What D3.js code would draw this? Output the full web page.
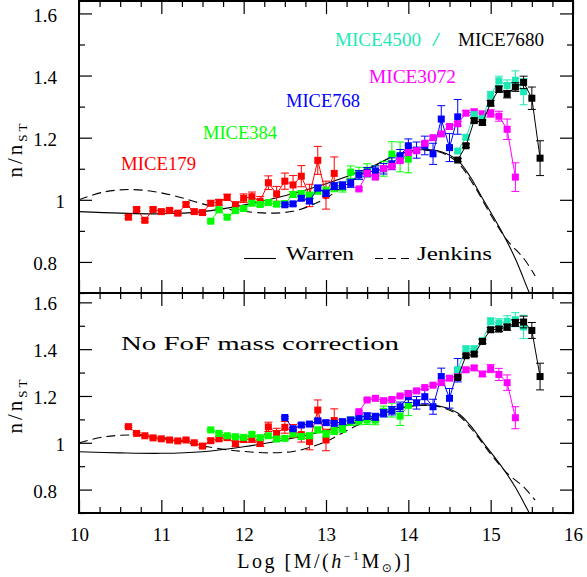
<!DOCTYPE html>
<html>
<head>
<meta charset="utf-8">
<script src="https://cdn.jsdelivr.net/npm/d3@7"></script>
<style>
    body { margin: 0; background: #fff; }
    text { font-family: "Liberation Serif", serif; }
</style>
</head>
<body>
<div id="chart"></div>
<script>
// axis ticks
const massTicks = [10, 11, 12, 13, 14, 15, 16];
const massMinor = [10.25, 10.5, 10.75, 11.25, 11.5, 11.75, 12.25, 12.5, 12.75, 13.25, 13.5, 13.75, 14.25, 14.5, 14.75, 15.25, 15.5, 15.75];
const ratioTicks = [0.8, 1, 1.2, 1.4, 1.6];
const ratioMinor = [0.7, 0.9, 1.1, 1.3, 1.5];

// log mass bins of each run
const massMICE179 = [10.6, 10.7, 10.8, 10.9, 11.0, 11.1, 11.2, 11.3, 11.4, 11.5, 11.6, 11.7, 11.8, 11.9, 12.0, 12.1, 12.2, 12.3, 12.4, 12.5, 12.6, 12.7, 12.8, 12.9, 13.0, 13.1];
const massMICE384 = [11.6, 11.7, 11.8, 11.9, 12.0, 12.1, 12.2, 12.3, 12.4, 12.5, 12.6, 12.7, 12.8, 12.9, 13.0, 13.1, 13.2, 13.3, 13.4, 13.5, 13.6, 13.7, 13.8, 13.9, 14.0];
const massMICE768 = [12.5, 12.6, 12.7, 12.8, 12.9, 13.0, 13.1, 13.2, 13.3, 13.4, 13.5, 13.6, 13.7, 13.8, 13.9, 14.0, 14.1, 14.2, 14.3, 14.4, 14.5, 14.6];
const massMICE3072 = [13.4, 13.5, 13.6, 13.7, 13.8, 13.9, 14.0, 14.1, 14.2, 14.3, 14.4, 14.5, 14.6, 14.7, 14.8, 14.9, 15.0, 15.1, 15.2, 15.3];
const massMICE4500 = [14.6, 14.7, 14.8, 14.9, 15.0, 15.1, 15.2, 15.3, 15.4];
const massMICE7680 = [14.6, 14.7, 14.8, 14.9, 15.0, 15.1, 15.2, 15.3, 15.4, 15.5, 15.6];

// top panel: n/n_ST with FoF mass correction
const topMICE179 = [0.944, 0.969, 0.934, 0.969, 0.962, 0.966, 0.957, 0.985, 0.962, 0.959, 0.989, 0.992, 1.008, 0.982, 1.005, 1.010, 0.995, 1.055, 1.019, 1.060, 1.048, 1.076, 1.014, 1.127, 1.015, 1.085];
const topErrMICE179 = [0.005, 0.005, 0.005, 0.005, 0.005, 0.005, 0.006, 0.006, 0.006, 0.007, 0.008, 0.009, 0.010, 0.012, 0.014, 0.015, 0.016, 0.022, 0.024, 0.026, 0.030, 0.034, 0.036, 0.045, 0.045, 0.053];
const topMICE384 = [0.931, 0.968, 0.944, 0.965, 0.972, 0.989, 0.985, 0.991, 0.986, 0.988, 1.017, 1.019, 1.014, 1.030, 1.028, 1.040, 1.040, 1.089, 1.085, 1.095, 1.088, 1.100, 1.147, 1.138, 1.131];
const topErrMICE384 = [0.004, 0.004, 0.005, 0.005, 0.005, 0.006, 0.006, 0.007, 0.007, 0.008, 0.009, 0.010, 0.011, 0.012, 0.013, 0.014, 0.015, 0.020, 0.020, 0.021, 0.022, 0.024, 0.040, 0.048, 0.044];
const topMICE768 = [0.984, 0.987, 1.005, 0.996, 1.038, 1.021, 1.044, 1.046, 1.053, 1.080, 1.089, 1.093, 1.100, 1.116, 1.142, 1.174, 1.160, 1.175, 1.148, 1.260, 1.168, 1.267];
const topErrMICE768 = [0.006, 0.006, 0.007, 0.008, 0.009, 0.010, 0.011, 0.012, 0.013, 0.014, 0.015, 0.016, 0.017, 0.019, 0.020, 0.022, 0.026, 0.030, 0.034, 0.043, 0.045, 0.056];
const topMICE3072 = [1.035, 1.085, 1.073, 1.101, 1.108, 1.126, 1.152, 1.158, 1.182, 1.200, 1.212, 1.236, 1.245, 1.279, 1.283, 1.276, 1.278, 1.269, 1.227, 1.073];
const topErrMICE3072 = [0.004, 0.004, 0.004, 0.004, 0.004, 0.004, 0.004, 0.005, 0.005, 0.005, 0.006, 0.006, 0.007, 0.008, 0.009, 0.010, 0.012, 0.016, 0.033, 0.046];
const topMICE4500 = [1.157, 1.201, 1.274, 1.260, 1.337, 1.383, 1.368, 1.385, 1.348];
const topErrMICE4500 = [0.006, 0.007, 0.008, 0.010, 0.012, 0.015, 0.018, 0.030, 0.042];
const topMICE7680 = [1.128, 1.174, 1.255, 1.249, 1.311, 1.356, 1.340, 1.363, 1.378, 1.327, 1.134];
const topErrMICE7680 = [0.005, 0.006, 0.007, 0.008, 0.009, 0.010, 0.012, 0.014, 0.020, 0.036, 0.056];

// bottom panel: no FoF mass correction
const botMICE179 = [1.069, 1.040, 1.030, 1.021, 1.017, 1.012, 1.008, 1.012, 1.000, 0.986, 1.009, 1.017, 1.022, 0.996, 1.014, 1.016, 0.999, 1.068, 1.040, 1.066, 1.050, 1.035, 1.005, 1.140, 1.012, 1.095];
const botErrMICE179 = [0.004, 0.004, 0.004, 0.004, 0.004, 0.004, 0.005, 0.005, 0.005, 0.006, 0.007, 0.008, 0.009, 0.011, 0.012, 0.014, 0.015, 0.020, 0.022, 0.025, 0.028, 0.032, 0.035, 0.043, 0.046, 0.050];
const botMICE384 = [1.055, 1.040, 1.030, 1.026, 1.023, 1.036, 1.022, 1.030, 1.016, 1.019, 1.037, 1.027, 1.030, 1.055, 1.038, 1.050, 1.060, 1.092, 1.095, 1.097, 1.097, 1.135, 1.140, 1.114, 1.160];
const botErrMICE384 = [0.004, 0.004, 0.005, 0.005, 0.005, 0.006, 0.006, 0.007, 0.007, 0.008, 0.009, 0.010, 0.011, 0.012, 0.013, 0.014, 0.015, 0.018, 0.018, 0.019, 0.020, 0.022, 0.030, 0.040, 0.044];
const botMICE768 = [1.108, 1.060, 1.076, 1.080, 1.094, 1.086, 1.083, 1.090, 1.097, 1.109, 1.114, 1.111, 1.126, 1.137, 1.154, 1.197, 1.171, 1.197, 1.154, 1.283, 1.190, 1.310];
const botErrMICE768 = [0.005, 0.005, 0.006, 0.007, 0.008, 0.009, 0.010, 0.011, 0.012, 0.013, 0.014, 0.015, 0.016, 0.018, 0.020, 0.025, 0.027, 0.030, 0.032, 0.036, 0.042, 0.050];
const botMICE3072 = [1.133, 1.183, 1.190, 1.180, 1.185, 1.200, 1.210, 1.222, 1.236, 1.246, 1.257, 1.276, 1.286, 1.312, 1.320, 1.294, 1.317, 1.292, 1.257, 1.107];
const botErrMICE3072 = [0.004, 0.004, 0.004, 0.004, 0.004, 0.004, 0.004, 0.005, 0.005, 0.005, 0.006, 0.006, 0.007, 0.008, 0.009, 0.010, 0.017, 0.026, 0.033, 0.047];
const botMICE4500 = [1.312, 1.402, 1.402, 1.436, 1.519, 1.512, 1.519, 1.526, 1.495];
const botErrMICE4500 = [0.008, 0.010, 0.010, 0.011, 0.015, 0.018, 0.024, 0.030, 0.050];
const botMICE7680 = [1.279, 1.372, 1.379, 1.433, 1.483, 1.486, 1.494, 1.512, 1.516, 1.480, 1.283];
const botErrMICE7680 = [0.006, 0.007, 0.008, 0.009, 0.010, 0.011, 0.013, 0.015, 0.025, 0.034, 0.057];

// fitting functions relative to Sheth-Tormen
const warrenMass = [10.0, 10.5, 11.0, 11.5, 12.0, 12.5, 13.0, 13.5, 13.8, 14.0, 14.2, 14.4, 14.6, 14.75, 14.9, 15.0, 15.15, 15.3, 15.47, 15.6];
const warrenRatio = [0.962, 0.957, 0.955, 0.962, 0.983, 1.013, 1.052, 1.100, 1.138, 1.155, 1.162, 1.155, 1.127, 1.075, 1.005, 0.960, 0.890, 0.810, 0.700, 0.620];
const jenkinsMass = [10.0, 10.3, 10.6, 10.9, 11.2, 11.5, 11.8, 12.0, 12.3, 12.6, 12.8, 13.0, 13.2, 13.4, 13.6, 13.8, 14.0, 14.2, 14.4, 14.6, 14.8, 15.0, 15.2, 15.4, 15.54];
const jenkinsRatio = [1.000, 1.025, 1.033, 1.027, 1.010, 0.987, 0.970, 0.963, 0.957, 0.963, 0.980, 1.005, 1.042, 1.078, 1.110, 1.138, 1.155, 1.160, 1.152, 1.120, 1.045, 0.952, 0.870, 0.812, 0.755];

const sims = [
    { name: 'MICE179', color: '#ff0000', mass: massMICE179, top: topMICE179, topErr: topErrMICE179, bot: botMICE179, botErr: botErrMICE179 },
    { name: 'MICE384', color: '#00ff00', mass: massMICE384, top: topMICE384, topErr: topErrMICE384, bot: botMICE384, botErr: botErrMICE384 },
    { name: 'MICE768', color: '#0000ff', mass: massMICE768, top: topMICE768, topErr: topErrMICE768, bot: botMICE768, botErr: botErrMICE768 },
    { name: 'MICE3072', color: '#ff00ff', mass: massMICE3072, top: topMICE3072, topErr: topErrMICE3072, bot: botMICE3072, botErr: botErrMICE3072 },
    { name: 'MICE4500', color: '#1de9b6', mass: massMICE4500, top: topMICE4500, topErr: topErrMICE4500, bot: botMICE4500, botErr: botErrMICE4500 },
    { name: 'MICE7680', color: '#000000', mass: massMICE7680, top: topMICE7680, topErr: topErrMICE7680, bot: botMICE7680, botErr: botErrMICE7680 }
];

const svg = d3.select('#chart').append('svg')
    .attr('width', 587)
    .attr('height', 577);

const left = 79, right = 573;
const x = d3.scaleLinear().domain([10, 16]).range([left, right]);

const panels = [
    { key: 'top', y: d3.scaleLinear().domain([0.7, 1.64]).range([293, 1]), top: 1, bottom: 293 },
    { key: 'bot', y: d3.scaleLinear().domain([0.7, 1.64]).range([513, 293]), top: 293, bottom: 513 }
];

const fmt = d => d === 1 ? '1' : d3.format('.1f')(d);

panels.forEach((p, i) => {
    const g = svg.append('g');
    const y = p.y;

    g.append('clipPath').attr('id', 'clip' + i)
        .append('rect')
        .attr('x', left).attr('y', p.top)
        .attr('width', right - left).attr('height', p.bottom - p.top);

    // fitting curves
    const curve = d3.line().x(d => x(d[0])).y(d => y(d[1])).curve(d3.curveCatmullRom);
    g.append('path')
        .datum(d3.zip(warrenMass, warrenRatio))
        .attr('clip-path', `url(#clip${i})`)
        .attr('d', curve)
        .attr('fill', 'none').attr('stroke', '#000').attr('stroke-width', 1.1);
    g.append('path')
        .datum(d3.zip(jenkinsMass, jenkinsRatio))
        .attr('clip-path', `url(#clip${i})`)
        .attr('d', curve)
        .attr('fill', 'none').attr('stroke', '#000').attr('stroke-width', 1.1)
        .attr('stroke-dasharray', '9,5');

    // simulations
    sims.forEach(s => {
        const vals = s[p.key], errs = s[p.key + 'Err'];
        const pts = s.mass.map((m, j) => ({ m: m, v: vals[j], e: errs[j] }));
        const sg = g.append('g').attr('clip-path', `url(#clip${i})`);

        sg.append('path')
            .datum(pts)
            .attr('d', d3.line().x(d => x(d.m)).y(d => y(d.v)))
            .attr('fill', 'none').attr('stroke', s.color).attr('stroke-width', 1);

        const eb = sg.selectAll('.err').data(pts).enter().append('g')
            .attr('stroke', s.color).attr('stroke-width', 1);
        eb.append('line')
            .attr('x1', d => x(d.m)).attr('x2', d => x(d.m))
            .attr('y1', d => y(d.v - d.e)).attr('y2', d => y(d.v + d.e));
        eb.append('line')
            .attr('x1', d => x(d.m) - 4).attr('x2', d => x(d.m) + 4)
            .attr('y1', d => y(d.v + d.e)).attr('y2', d => y(d.v + d.e));
        eb.append('line')
            .attr('x1', d => x(d.m) - 4).attr('x2', d => x(d.m) + 4)
            .attr('y1', d => y(d.v - d.e)).attr('y2', d => y(d.v - d.e));

        sg.selectAll('.pt').data(pts).enter().append('rect')
            .attr('x', d => x(d.m) - 3.5).attr('y', d => y(d.v) - 3.5)
            .attr('width', 7).attr('height', 7)
            .attr('fill', s.color);
    });

    // axes with inward ticks on all four sides
    const axes = [
        d3.axisBottom(x).tickValues(massTicks).tickSize(-13).tickSizeOuter(0).tickPadding(15).tickFormat(i === 1 ? d3.format('d') : ''),
        d3.axisBottom(x).tickValues(massMinor).tickSize(-6).tickSizeOuter(0).tickFormat('')
    ];
    axes.forEach(a => g.append('g').attr('transform', `translate(0,${p.bottom})`).call(a));
    [13, 6].forEach((len, k) => {
        g.append('g').attr('transform', `translate(0,${p.top})`)
            .call(d3.axisTop(x).tickValues(k ? massMinor : massTicks).tickSize(-len).tickSizeOuter(0).tickFormat(''));
        g.append('g').attr('transform', `translate(${right},0)`)
            .call(d3.axisRight(y).tickValues(k ? ratioMinor : ratioTicks).tickSize(-len).tickSizeOuter(0).tickFormat(''));
    });
    g.append('g').attr('transform', `translate(${left},0)`)
        .call(d3.axisLeft(y).tickValues(ratioMinor).tickSize(-6).tickSizeOuter(0).tickFormat(''));
    const yl = g.append('g').attr('transform', `translate(${left},0)`)
        .call(d3.axisLeft(y).tickValues(ratioTicks).tickSize(-13).tickSizeOuter(0).tickPadding(22).tickFormat(fmt));
    yl.selectAll('text').filter(d => d === 1).attr('x', -14);

    g.selectAll('.domain').remove();
    g.selectAll('.tick line').attr('stroke', '#000').attr('stroke-width', 1.2);
    g.selectAll('.tick text')
        .attr('fill', '#000')
        .style('font-family', '"Liberation Serif", serif')
        .style('font-size', '19px');
    yl.selectAll('text').attr('dy', '0.4em');

    g.append('rect')
        .attr('x', left).attr('y', p.top)
        .attr('width', right - left).attr('height', p.bottom - p.top)
        .attr('fill', 'none').attr('stroke', '#000').attr('stroke-width', 2);

    // y axis title
    const yt = g.append('text')
        .attr('transform', `translate(22,${(p.top + p.bottom) / 2 + 2}) rotate(-90)`)
        .attr('text-anchor', 'middle')
        .attr('font-size', 21)
        .attr('letter-spacing', 3);
    yt.append('tspan').text('n/n');
    yt.append('tspan').attr('font-size', 13).attr('dy', 5).text('ST');
});

// run labels
const labels = [
    { text: 'MICE179', color: '#ff0000', x: 121, y: 169.5, w: 75 },
    { text: 'MICE384', color: '#00ff00', x: 203, y: 138.5, w: 74 },
    { text: 'MICE768', color: '#0000ff', x: 286, y: 106.5, w: 74 },
    { text: 'MICE3072', color: '#ff00ff', x: 369, y: 82.5, w: 87 },
    { text: 'MICE4500', color: '#1de9b6', x: 335, y: 45.5, w: 86 },
    { text: '/', color: '#1de9b6', x: 432, y: 45.5, w: 8 },
    { text: 'MICE7680', color: '#000000', x: 458, y: 45.5, w: 86 },
    { text: 'Warren', color: '#000000', x: 286, y: 259.5, w: 68 },
    { text: 'Jenkins', color: '#000000', x: 417, y: 259.5, w: 75 },
    { text: 'No FoF mass correction', color: '#000000', x: 121, y: 350, w: 278 }
];
svg.selectAll('.lbl').data(labels).enter().append('text')
    .attr('x', d => d.x).attr('y', d => d.y)
    .attr('fill', d => d.color)
    .attr('font-size', 19)
    .attr('textLength', d => d.w)
    .attr('lengthAdjust', 'spacingAndGlyphs')
    .text(d => d.text);

// legend lines
svg.append('line').attr('x1', 244).attr('x2', 276).attr('y1', 258.5).attr('y2', 258.5)
    .attr('stroke', '#000').attr('stroke-width', 1.1);
svg.append('line').attr('x1', 375).attr('x2', 409).attr('y1', 258.5).attr('y2', 258.5)
    .attr('stroke', '#000').attr('stroke-width', 1.1).attr('stroke-dasharray', '8,5');

// x axis title
const xt = svg.append('text')
    .attr('x', 325).attr('y', 567.5)
    .attr('text-anchor', 'middle')
    .attr('font-size', 20)
    .attr('letter-spacing', 2.5);
xt.append('tspan').text('Log [M/(');
xt.append('tspan').attr('font-style', 'italic').text('h');
xt.append('tspan').attr('font-size', 12).attr('dy', -8).text('\u22121');
xt.append('tspan').attr('dy', 8).text('M');
xt.append('tspan').attr('font-size', 12).attr('dy', 4).style('font-family', '"DejaVu Sans", sans-serif').text('\u2299');
xt.append('tspan').attr('dy', -4).text(')]');
</script>
</body>
</html>
